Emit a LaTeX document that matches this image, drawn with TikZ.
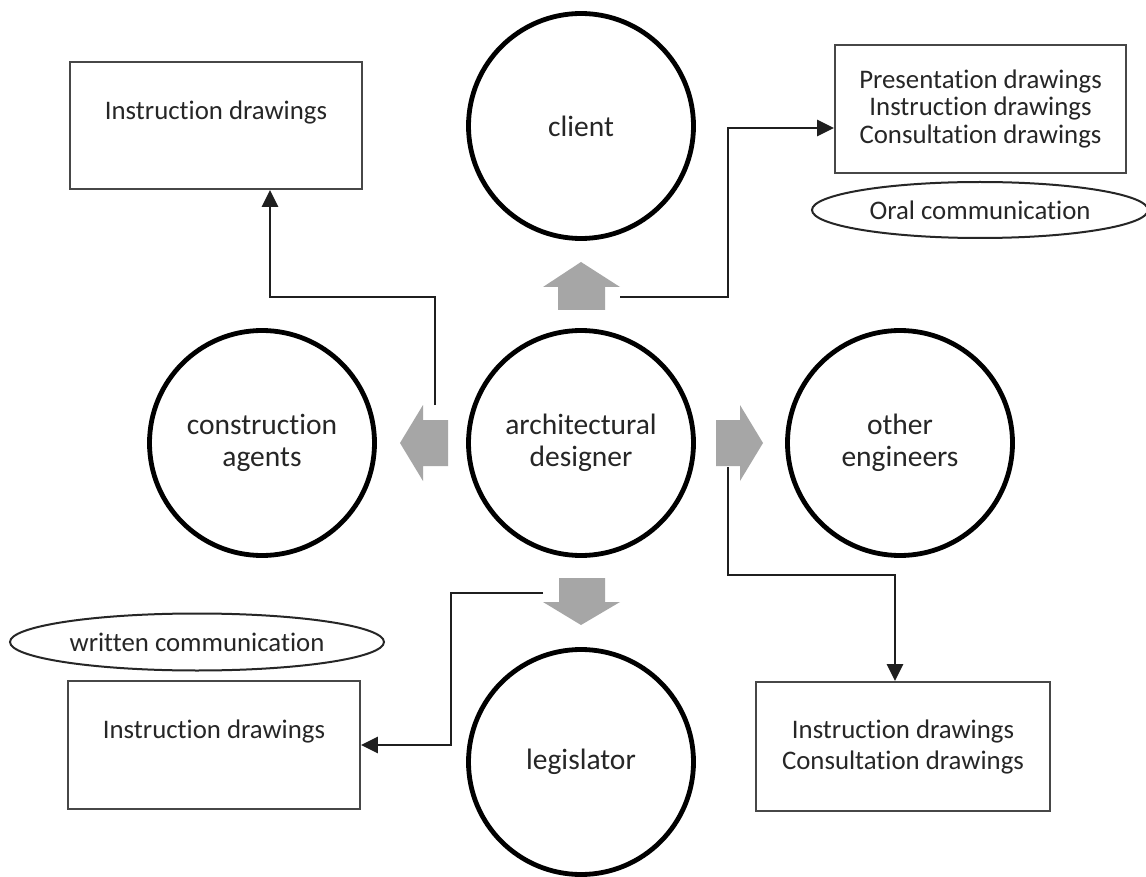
\documentclass[tikz,border=0pt]{standalone}
\usepackage{fontspec}
\setmainfont{Carlito}[Ligatures={NoCommon}]
\usetikzlibrary{arrows.meta,shapes.geometric}
\definecolor{blockgray}{HTML}{A6A6A6}
\definecolor{inkgray}{HTML}{262626}
\tikzset{
  actor/.style={circle, draw=black, line width=4.8pt, minimum size=225pt, inner sep=0pt,
    align=center, text=inkgray, font=\fontsize{29.5}{32.5}\selectfont},
  docbox/.style={rectangle, draw=black!72, line width=1.8pt, inner sep=0pt, align=center,
    text=inkgray, font=\fontsize{26.8}{31}\selectfont},
  mode/.style={ellipse, draw=black!85, line width=2pt, inner sep=0pt,
    text=inkgray, font=\fontsize{26.8}{31}\selectfont},
  conn/.style={line width=2.8pt, draw=black!88, -{Triangle[length=17pt,width=16pt]}},
  blockarrow/.style={fill=blockgray, draw=none}
}
\begin{document}
\begin{tikzpicture}[x=1pt,y=-1pt]
\useasboundingbox[fill=white] (0,0) rectangle (1146,877);

% actors
\node[actor] (designer) at (581,443) {architectural\\designer};
\node[actor] (client) at (581,126) {client};
\node[actor] (builders) at (262,443) {construction\\agents};
\node[actor] (engineers) at (900,443) {other\\engineers};
\node[actor] (legislator) at (581,762) {legislator};

% document boxes
\node[docbox, minimum width=291pt, minimum height=128pt, font=\fontsize{26.8}{27.5}\selectfont]
  (trbox) at (980.5,109) {Presentation drawings\\Instruction drawings\\Consultation drawings};
\node[docbox, minimum width=292pt, minimum height=127pt] (tlbox) at (216,125.5) {Instruction drawings\\~};
\node[docbox, minimum width=292pt, minimum height=128pt] (blbox) at (214,745) {Instruction drawings\\~};
\node[docbox, minimum width=294pt, minimum height=129pt] (brbox) at (903,746.5) {Instruction drawings\\Consultation drawings};

% communication modes
\node[mode, minimum width=336pt, minimum height=56pt] (oral) at (980,210) {Oral communication\hspace{20pt}};
\node[mode, minimum width=374pt, minimum height=57pt] (written) at (197,642) {written communication\hspace{24pt}};

% block arrows from the designer
\path[blockarrow] (558,310) -- (558,287) -- (543,287) -- (581,262) -- (620,287) -- (605,287) -- (605,310) -- cycle;
\path[blockarrow] (559,578) -- (605,578) -- (605,602) -- (620,602) -- (581,625) -- (543,602) -- (559,602) -- cycle;
\path[blockarrow] (448,420) -- (423,420) -- (423,405) -- (400,443) -- (423,481) -- (423,466) -- (448,466) -- cycle;
\path[blockarrow] (716,420) -- (740,420) -- (740,405) -- (763,443) -- (740,481) -- (740,466) -- (716,466) -- cycle;

% connector ends
\coordinate (s1) at (620,297);
\coordinate (k1) at (728,128);
\coordinate (s2) at (435,405);
\coordinate (k2) at (270,297);
\coordinate (s3) at (728,467);
\coordinate (k3) at (895,575);
\coordinate (s4) at (543,593);
\coordinate (k4) at (451,745);

% connectors
\draw[conn] (s1) -| (k1) -- (k1 -| trbox.west);
\draw[conn] (s2) |- (k2) -- (k2 |- tlbox.south);
\draw[conn] (s3) |- (k3) -- (k3 |- brbox.north);
\draw[conn] (s4) -| (k4) -- (k4 -| blbox.east);
\end{tikzpicture}
\end{document}
